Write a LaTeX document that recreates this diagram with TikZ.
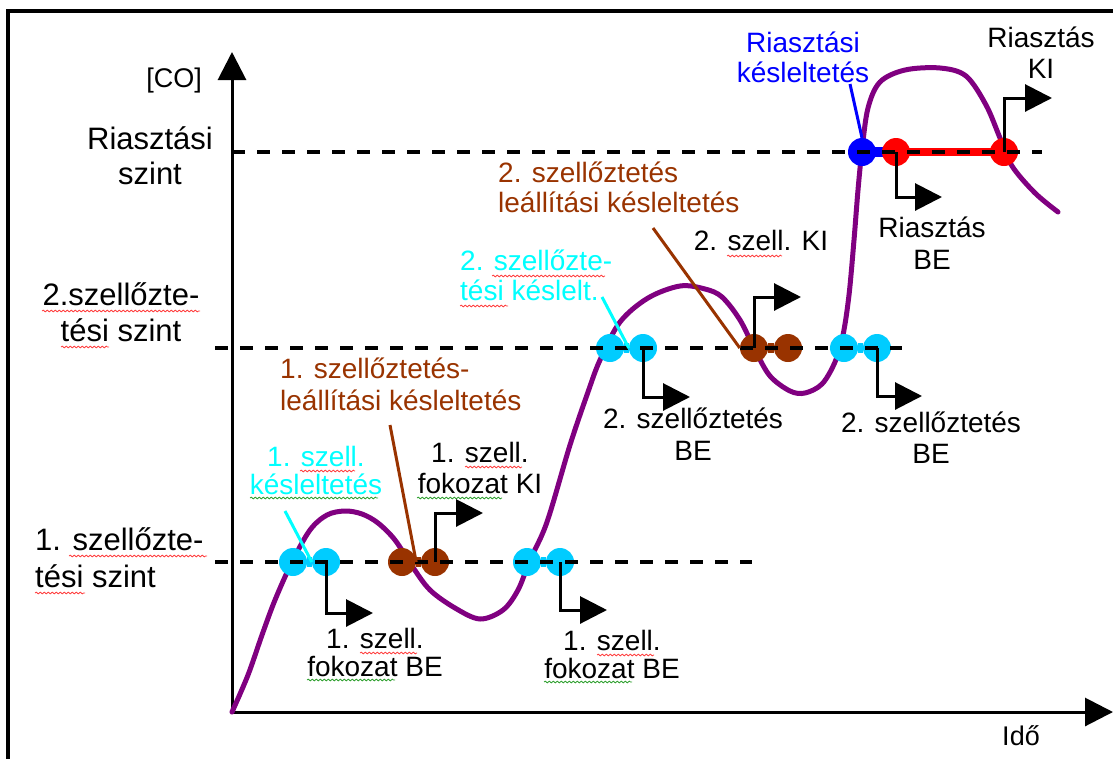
\documentclass[tikz,border=0pt]{standalone}
\usepackage{fontspec}
\setmainfont{Liberation Sans}
\usetikzlibrary{arrows.meta,decorations.pathmorphing}

\definecolor{curvepurple}{HTML}{800080}
\definecolor{ventcyan}{HTML}{00CCFF}
\definecolor{labelcyan}{HTML}{00FFFF}
\definecolor{ventbrown}{HTML}{993300}
\definecolor{alarmblue}{HTML}{0000FF}
\definecolor{alarmred}{HTML}{FF0000}
\definecolor{spellred}{HTML}{FF4040}
\definecolor{spellgreen}{HTML}{30A030}

% multi-line text whose reference point is the baseline of the first line
\newcommand\cstack[2]{\vtop{\baselineskip=#1pt\lineskiplimit=-100pt\lineskip=0pt\halign{\hfil##\hfil\cr#2\crcr}}}
\newcommand\lstack[2]{\vtop{\baselineskip=#1pt\lineskiplimit=-100pt\lineskip=0pt\halign{##\hfil\cr#2\crcr}}}

\tikzset{
  axisline/.style={line width=3pt,-{Triangle[length=28pt,width=28pt]}},
  levelline/.style={line width=3.5pt,dash pattern=on 13pt off 12pt},
  conc/.style={line width=5pt,curvepurple,line cap=round},
  dotc/.style={circle,fill=ventcyan,minimum size=28pt,inner sep=0pt},
  dotb/.style={circle,fill=ventbrown,minimum size=28pt,inner sep=0pt},
  dotr/.style={circle,fill=alarmred,minimum size=28pt,inner sep=0pt},
  dotblue/.style={circle,fill=alarmblue,minimum size=28pt,inner sep=0pt},
  neck/.style={line width=10pt},
  steparrow/.style={line width=3pt,-{Triangle[length=27pt,width=27pt]}},
  pointer/.style={line width=3pt},
  biglabel/.style={inner sep=0pt,font=\fontsize{31}{36}\selectfont},
  smalllabel/.style={inner sep=0pt,font=\fontsize{28}{32}\selectfont},
  spellr/.style={spellred,line width=0.8pt,decorate,decoration={snake,segment length=4pt,amplitude=0.9pt}},
  spellg/.style={spellgreen,line width=0.8pt,decorate,decoration={snake,segment length=4pt,amplitude=0.9pt}},
}

\begin{document}
\begin{tikzpicture}[x=1pt,y=-1pt]
\useasboundingbox (0,0) rectangle (1113,758);

% frame
\draw[line width=3.5pt] (8,760) -- (8,11) -- (1115,11);

% axes
\coordinate (O) at (232,712);
\coordinate (ytip) at (232,52);
\coordinate (xtip) at (1113,712);
\draw[axisline] (O) -- (ytip);
\draw[axisline] (O) -- (xtip);

% concentration curve
\draw[conc] plot[smooth,tension=0.55] coordinates {
 (232,712) (248,675) (262,635) (275,600) (292,562) (310,530) (327,515)
 (345,511) (362,514) (378,523) (395,540) (412,566) (430,590) (455,608)
 (480,619) (503,610) (518,590) (530,560) (547,522) (570,445) (588,392)
 (600,360) (620,322) (648,298) (680,286) (705,289) (722,297) (740,320)
 (755,350) (770,376) (790,391) (805,393) (822,384) (835,362) (843,335)
 (849,295) (854,240) (858,190) (862,150) (868,108) (880,82) (905,70)
 (940,68) (966,76) (986,105) (1000,138) (1012,166) (1035,193) (1058,212)};

% level 1 markers
\node[dotc] (c1a) at (293,562) {};
\node[dotc] (c1b) at (326,562) {};
\node[dotb] (b1a) at (402,562) {};
\node[dotb] (b1b) at (435,562) {};
\node[dotc] (c2a) at (527,562) {};
\node[dotc] (c2b) at (560,562) {};
\draw[neck,ventcyan] (c1a) -- (c1b);
\draw[neck,ventbrown] (b1a) -- (b1b);
\draw[neck,ventcyan] (c2a) -- (c2b);

% level 2 markers
\node[dotc] (c3a) at (610,348) {};
\node[dotc] (c3b) at (643,348) {};
\node[dotb] (b2a) at (754,348) {};
\node[dotb] (b2b) at (788,348) {};
\node[dotc] (c4a) at (844,348) {};
\node[dotc] (c4b) at (877,348) {};
\draw[neck,ventcyan] (c3a) -- (c3b);
\draw[neck,ventbrown] (b2a) -- (b2b);
\draw[neck,ventcyan] (c4a) -- (c4b);

% alarm level markers
\draw[line width=8pt,alarmred] (896,152) -- (1004,152);
\draw[neck,alarmblue] (862,152) -- (886,152);
\node[dotblue] (bl) at (862,152) {};
\node[dotr] (r1) at (896,152) {};
\node[dotr] (r2) at (1004,152) {};

% threshold lines
\draw[levelline] (232,152) -- (1042,152);
\draw[levelline] (215,348) -- (902,348);
\draw[levelline] (215,562) -- (752,562);

% switching steps
\draw[steparrow] (c1b.center) |- ++(47,51);
\draw[steparrow] (b1b.center) |- ++(48,-49);
\draw[steparrow] (c2b.center) |- ++(47,48);
\draw[steparrow] (c3b.center) |- ++(47,49);
\draw[steparrow] (b2a.center) |- ++(47,-51);
\draw[steparrow] (c4b.center) |- ++(45,48);
\draw[steparrow] (r1.center) |- ++(46,45);
\draw[steparrow] (r2.center) |- ++(48,-54);

% label pointers
\coordinate (pc1) at (285,511);
\coordinate (pc2) at (602,297);
\coordinate (pb1) at (390,425);
\coordinate (pb2) at (653,228);
\coordinate (pbl) at (850,84);
\draw[pointer,labelcyan] (pc1) -- (c1b.west);
\draw[pointer,labelcyan] (pc2) -- (c3b.west);
\draw[pointer,ventbrown] (pb1) -- (b1a.east);
\draw[pointer,ventbrown] (pb2) -- (b2a.west);
\draw[pointer,alarmblue] (pbl) -- (bl.north);

% axis and level labels
\node[anchor=base east,inner sep=0pt,font=\fontsize{27}{30}\selectfont] (co) at (202,87) {[CO]};
\node[anchor=base,inner sep=0pt,font=\fontsize{27}{30}\selectfont] (ido) at (1021,745) {Idő};
\node[biglabel,anchor=base] (lalarm) at (150,149) {\cstack{35}{Riasztási\cr szint}};
\node[biglabel,anchor=base] (lvent2) at (121,305) {\cstack{36}{2.szellőzte-\cr tési szint}};
\node[biglabel,anchor=base west] (lvent1) at (35,550) {\lstack{37}{1. szellőzte-\cr tési szint}};

% event labels
\node[smalllabel,anchor=base,labelcyan] (tc1) at (316,466) {\cstack{28}{1. szell.\cr késleltetés}};
\node[smalllabel,anchor=base] (on1a) at (375,648) {\cstack{28}{1. szell.\cr fokozat BE}};
\node[smalllabel,anchor=base] (off1) at (480,462) {\cstack{31}{1. szell.\cr fokozat KI}};
\node[smalllabel,anchor=base] (on1b) at (612,650) {\cstack{28}{1. szell.\cr fokozat BE}};
\node[smalllabel,anchor=base west,ventbrown] (tb1) at (280,378) {\lstack{32}{1. szellőztetés-\cr leállítási késleltetés}};
\node[smalllabel,anchor=base west,ventbrown] (tb2) at (498,182) {\lstack{30}{2. szellőztetés\cr leállítási késleltetés}};
\node[smalllabel,anchor=base] (off2) at (761,250) {2. szell. KI};
\node[smalllabel,anchor=base west,labelcyan] (tc2) at (460,270) {\lstack{30}{2. szellőzte-\cr tési késlelt.}};
\node[smalllabel,anchor=base] (on2a) at (693,428) {\cstack{32}{2. szellőztetés\cr BE}};
\node[smalllabel,anchor=base] (on2b) at (931,432) {\cstack{31}{2. szellőztetés\cr BE}};
\node[smalllabel,anchor=base] (alon) at (932,237) {\cstack{32}{Riasztás\cr BE}};
\node[smalllabel,anchor=base,alarmblue] (tbl) at (803,52) {\cstack{30}{Riasztási\cr késleltetés}};
\node[smalllabel,anchor=base] (aloff) at (1041,47) {\cstack{31}{Riasztás\cr KI}};

% proofing marks under words
\draw[spellr] (69,556) -- (207,556);
\draw[spellr] (35,593) -- (85,593);
\draw[spellr] (42,311) -- (200,311);
\draw[spellr] (61,347) -- (109,347);
\draw[spellr] (300,471) -- (355,471);
\draw[spellg] (250,498) -- (378,498);
\draw[spellr] (360,653) -- (417,653);
\draw[spellg] (307,680) -- (395,680);
\draw[spellr] (465,467) -- (522,467);
\draw[spellg] (417,498) -- (502,498);
\draw[spellr] (597,655) -- (654,655);
\draw[spellg] (544,682) -- (632,682);
\draw[spellr] (727,256) -- (782,256);
\draw[spellr] (492,276) -- (605,276);
\draw[spellr] (460,306) -- (508,306);
\end{tikzpicture}
\end{document}
